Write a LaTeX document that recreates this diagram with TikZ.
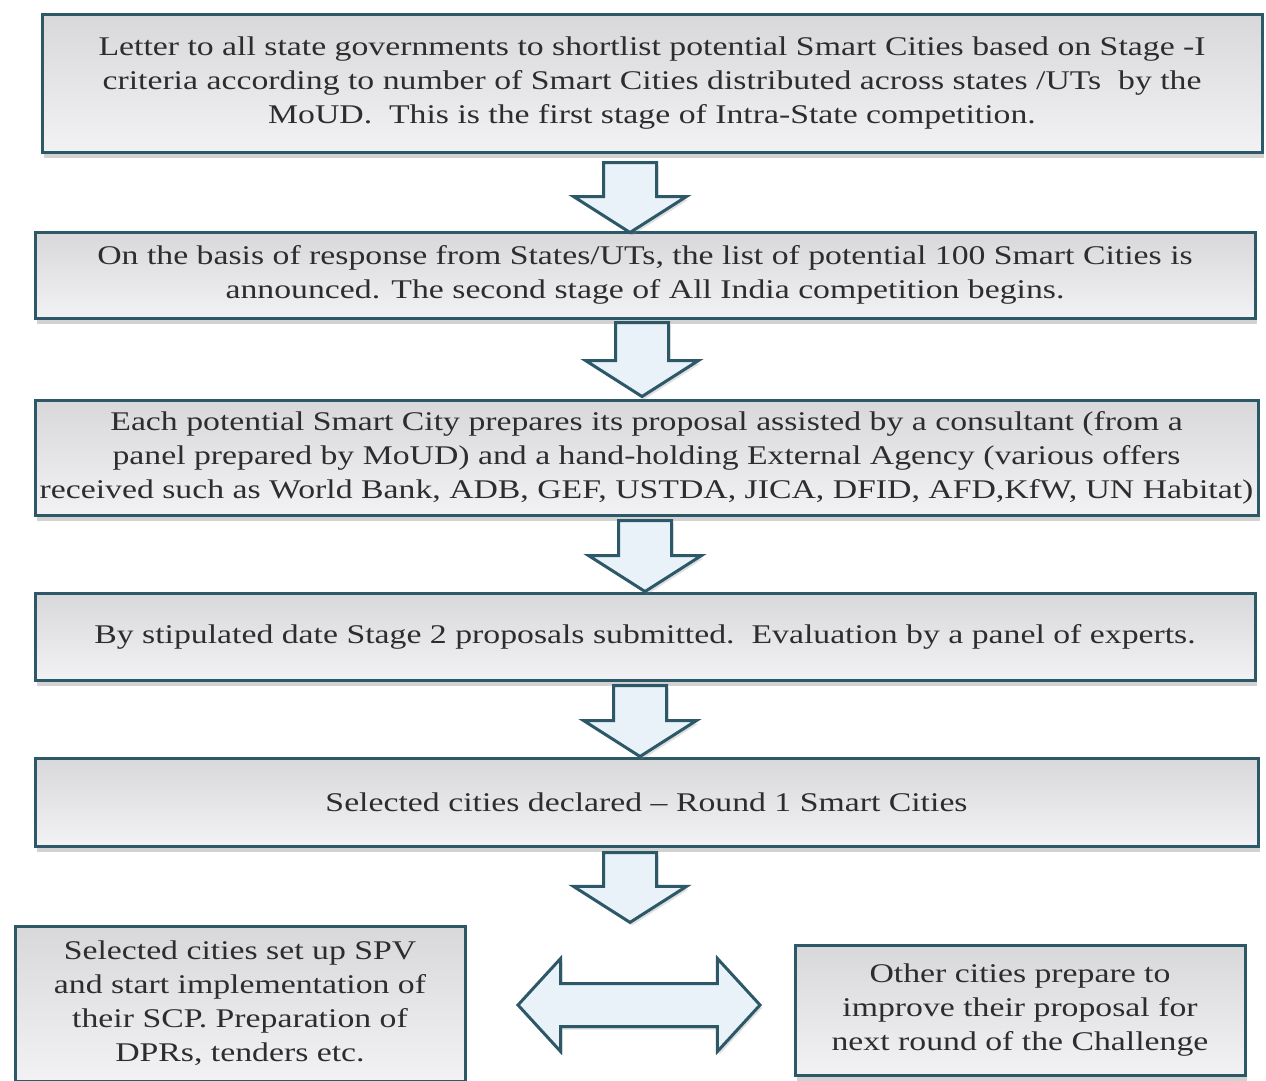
\documentclass[tikz,border=0pt]{standalone}
\usepackage{fontspec}
\setmainfont[FakeStretch=1.25]{Liberation Serif}
\usetikzlibrary{shapes.arrows,shadows}
\definecolor{edgeteal}{RGB}{44,88,104}
\definecolor{boxtop}{RGB}{216,216,219}
\definecolor{boxbottom}{RGB}{242,242,244}
\definecolor{arrowfill}{RGB}{232,242,248}
\definecolor{textgray}{RGB}{45,45,45}
\tikzset{
	stagebox/.style={rectangle, draw=edgeteal, line width=3pt, top color=boxtop, bottom color=boxbottom,
		drop shadow={opacity=0.35, shadow xshift=2pt, shadow yshift=-6pt},
		align=center, text=textgray, font=\fontsize{27}{34}\selectfont, inner sep=0pt},
	downarrow/.style={single arrow, draw=edgeteal, line width=3pt, fill=arrowfill, shape border rotate=270,
		minimum width=0pt, inner sep=25pt, single arrow head extend=30pt, single arrow tip angle=115,
		anchor=tail, drop shadow={opacity=0.25, shadow xshift=2pt, shadow yshift=-3pt}},
	bothways/.style={double arrow, draw=edgeteal, line width=3pt, fill=arrowfill,
		minimum width=0pt, inner sep=20pt, double arrow head extend=25pt, double arrow tip angle=95,
		drop shadow={opacity=0.25, shadow xshift=2pt, shadow yshift=-3pt}}
}
\begin{document}
\begin{tikzpicture}[x=1pt,y=-1pt]
		\path[use as bounding box, clip] (0,0) rectangle (1266,1081);
		\fill[white] (0,0) rectangle (1266,1081);
		% stages
		\node[stagebox, minimum width=1220pt, minimum height=137pt] (letter) at (652,83.5)
			{Letter to all state governments to shortlist potential Smart Cities based on Stage -I\\
			criteria according to number of Smart Cities distributed across states /UTs\ \ by the\\
			MoUD.\ \ This is the first stage of Intra-State competition.};
		\node[stagebox, minimum width=1220pt, minimum height=86pt] (announce) at (645,275)
			{On the basis of response from States/UTs, the list of potential 100 Smart Cities is\\
			announced. The second stage of All India competition begins.};
		\node[stagebox, minimum width=1223pt, minimum height=115pt] (proposal) at (646.5,457.5)
			{Each potential Smart City prepares its proposal assisted by a consultant (from a\\
			panel prepared by MoUD) and a hand-holding External Agency (various offers\\
			received such as World Bank, ADB, GEF, USTDA, JICA, DFID, AFD,KfW, UN Habitat)};
		\node[stagebox, minimum width=1220pt, minimum height=87pt] (evaluate) at (645,636.5)
			{By stipulated date Stage 2 proposals submitted.\ \ Evaluation by a panel of experts.};
		\node[stagebox, minimum width=1223pt, minimum height=88pt] (declared) at (646.5,802)
			{Selected cities declared -- Round 1 Smart Cities};
		\node[stagebox, minimum width=450pt, minimum height=155pt] (spv) at (240,1003.5)
			{Selected cities set up SPV\\
			and start implementation of\\
			their SCP. Preparation of\\
			DPRs, tenders etc.};
		\node[stagebox, minimum width=450pt, minimum height=130pt] (others) at (1020,1010)
			{Other cities prepare to\\
			improve their proposal for\\
			next round of the Challenge};
		% arrows between stages
		\node[downarrow, minimum height=70pt] (a1) at (630,161) {};
		\node[downarrow, minimum height=74pt] (a2) at (642,321) {};
		\node[downarrow, minimum height=71pt] (a3) at (645,519) {};
		\node[downarrow, minimum height=71pt] (a4) at (640,684) {};
		\node[downarrow, minimum height=67pt] (a5) at (630,851) {};
		\node[bothways, minimum height=242pt] (split) at (639,1005) {};
\end{tikzpicture}
\end{document}
